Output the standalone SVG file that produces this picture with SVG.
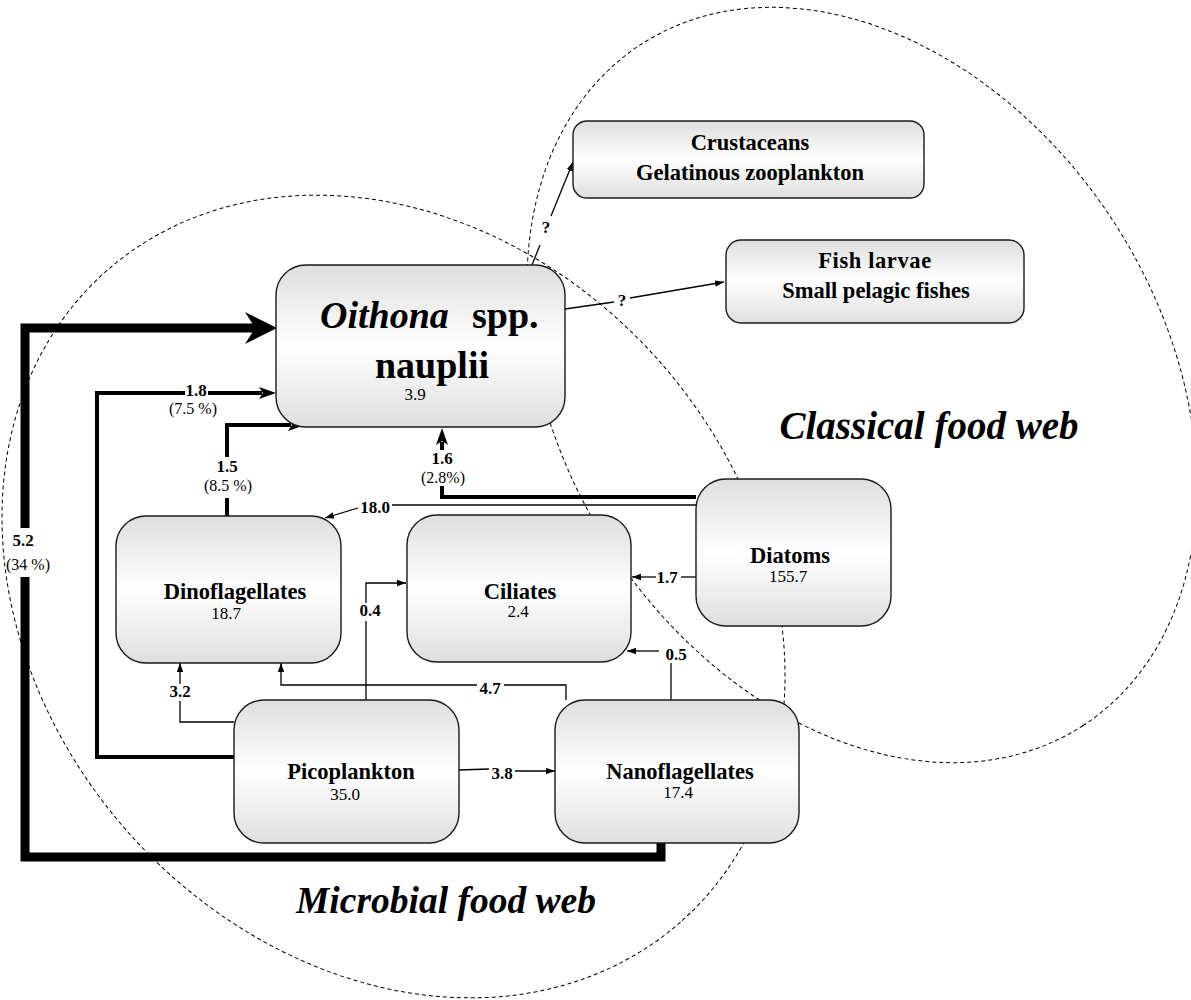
<svg xmlns="http://www.w3.org/2000/svg" width="1191" height="1000" viewBox="0 0 1191 1000">
<style>
 .box{fill:url(#gr);stroke:#1a1a1a;stroke-width:1.4}
 .ell{fill:none;stroke:#000;stroke-width:1;stroke-dasharray:4 3}
 .thin{fill:none;stroke:#000;stroke-width:1.3}
 .med{fill:none;stroke:#000;stroke-width:4}
 .thick{fill:none;stroke:#000;stroke-width:9}
 text{font-family:"Liberation Serif","Times New Roman",serif;fill:#000}
 .nm{font-size:22.5px;font-weight:bold;text-anchor:middle}
 .val{font-size:17px;text-anchor:middle}
 .el{font-size:17px;font-weight:bold;text-anchor:middle}
 .pc{font-size:16px;text-anchor:middle}
 .big{font-size:38px;font-weight:bold}
 .title{font-weight:bold;font-style:italic;text-anchor:middle}
</style>
<defs>
 <linearGradient id="gr" x1="0" y1="0" x2="0" y2="1">
  <stop offset="0" stop-color="#dedede"/>
  <stop offset="0.5" stop-color="#ffffff"/>
  <stop offset="1" stop-color="#dedede"/>
 </linearGradient>
 <marker id="aT" markerUnits="userSpaceOnUse" markerWidth="10" markerHeight="8" refX="9" refY="4" orient="auto"><path d="M0,0.8 L9,4 L0,7.2 z"/></marker>
 <marker id="aM" markerUnits="userSpaceOnUse" markerWidth="18" markerHeight="14" refX="3" refY="7" orient="auto"><path d="M0,1 L17,7 L0,13 L4,7 z"/></marker>
</defs>

<g id="regions">
 <ellipse class="ell" cx="0" cy="0" rx="434" ry="355" transform="translate(393.5,596.5) rotate(48.6)"/>
 <ellipse class="ell" cx="0" cy="0" rx="406" ry="300" transform="translate(862,385) rotate(57)"/>
 <text class="title" x="929" y="439" font-size="39">Classical food web</text>
 <text class="title" x="446" y="913" font-size="37.5">Microbial food web</text>
</g>

<g id="connectors">
 <!-- 5.2 thick: Nanoflagellates -> Oithona -->
 <path class="thick" d="M661,843 V857 H25 V577"/>
 <path class="thick" d="M25,528 V328 H255"/>
 <polygon points="277,328 245,312 255,328 245,344" fill="#000"/>
 <text class="el" x="23" y="546">5.2</text>
 <text class="pc" x="28" y="570">(34 %)</text>

 <!-- 1.8 Picoplankton -> Oithona -->
 <path class="med" d="M234,757 H97 V393 H185"/>
 <path class="med" d="M208,393 H262" marker-end="url(#aM)"/>
 <text class="el" x="196" y="396">1.8</text>
 <text class="pc" x="193" y="414">(7.5 %)</text>

 <!-- 1.5 Dinoflagellates -> Oithona -->
 <path class="med" d="M227,516 V498"/>
 <path class="med" d="M227,457 V425 H291" marker-end="url(#aM)"/>
 <text class="el" x="227" y="472">1.5</text>
 <text class="pc" x="228" y="491">(8.5 %)</text>

 <!-- 1.6 Diatoms -> Oithona -->
 <path class="med" d="M696,497 H442 V486"/>
 <path class="med" d="M442,450 V442" marker-end="url(#aM)"/>
 <text class="el" x="442" y="464">1.6</text>
 <text class="pc" x="443" y="483">(2.8%)</text>

 <!-- 18.0 Diatoms -> Dinoflagellates -->
 <path class="thin" d="M696,505 H392"/>
 <path class="thin" d="M358,508 L325,518" marker-end="url(#aT)"/>
 <text class="el" x="375" y="513">18.0</text>

 <!-- 1.7 Diatoms -> Ciliates -->
 <path class="thin" d="M696,577 H681"/>
 <path class="thin" d="M656,577 H632" marker-end="url(#aT)"/>
 <text class="el" x="667" y="583">1.7</text>

 <!-- 0.5 Nanoflagellates -> Ciliates -->
 <path class="thin" d="M671,700 V663"/>
 <path class="thin" d="M659,651 H627" marker-end="url(#aT)"/>
 <text class="el" x="676" y="660">0.5</text>

 <!-- 0.4 Picoplankton -> Ciliates -->
 <path class="thin" d="M366,700 V621"/>
 <path class="thin" d="M366,603 V583 H406" marker-end="url(#aT)"/>
 <text class="el" x="370" y="616">0.4</text>

 <!-- 3.2 Picoplankton -> Dinoflagellates -->
 <path class="thin" d="M234,722 H180 V701"/>
 <path class="thin" d="M180,684 V663" marker-end="url(#aT)"/>
 <text class="el" x="180" y="697">3.2</text>

 <!-- 4.7 Nanoflagellates -> Dinoflagellates -->
 <path class="thin" d="M566,700 V685 H504"/>
 <path class="thin" d="M477,685 H281 V663" marker-end="url(#aT)"/>
 <text class="el" x="490" y="694">4.7</text>

 <!-- 3.8 Picoplankton -> Nanoflagellates -->
 <path class="thin" d="M459,770 L489,769"/>
 <path class="thin" d="M515,771 H555" marker-end="url(#aT)"/>
 <text class="el" x="502" y="779">3.8</text>

 <!-- ? Oithona -> Crustaceans -->
 <path class="thin" d="M532,265 L540,245"/>
 <path class="thin" d="M551,216 L573,162" marker-end="url(#aT)"/>
 <text class="el" x="546" y="233">?</text>

 <!-- ? Oithona -> Fish -->
 <path class="thin" d="M565,309 L614,302"/>
 <path class="thin" d="M630,298 L724,282" marker-end="url(#aT)"/>
 <text class="el" x="622" y="306">?</text>
</g>

<g id="node-oithona">
 <rect class="box" x="276" y="265" width="289" height="162" rx="30"/>
 <text class="big" x="320" y="328" font-style="italic">Oithona</text>
 <text class="big" x="472" y="328">spp.</text>
 <text class="big" x="432" y="378" text-anchor="middle">nauplii</text>
 <text class="val" x="415" y="400">3.9</text>
</g>

<g id="node-crustaceans">
 <rect class="box" x="573" y="121" width="351" height="77" rx="14"/>
 <text class="nm" x="750" y="150">Crustaceans</text>
 <text class="nm" x="750" y="180">Gelatinous zooplankton</text>
</g>

<g id="node-fish">
 <rect class="box" x="726" y="240" width="298" height="83" rx="15"/>
 <text class="nm" x="875" y="268" letter-spacing="0.6">Fish larvae</text>
 <text class="nm" x="876" y="298">Small pelagic fishes</text>
</g>

<g id="node-dinoflagellates">
 <rect class="box" x="116" y="516" width="225" height="147" rx="30"/>
 <text class="nm" x="235" y="599">Dinoflagellates</text>
 <text class="val" x="226" y="619">18.7</text>
</g>

<g id="node-ciliates">
 <rect class="box" x="407" y="515" width="224" height="147" rx="30"/>
 <text class="nm" x="520" y="599">Ciliates</text>
 <text class="val" x="518" y="617">2.4</text>
</g>

<g id="node-diatoms">
 <rect class="box" x="696" y="479" width="195" height="147" rx="30"/>
 <text class="nm" x="790" y="563">Diatoms</text>
 <text class="val" x="788" y="582">155.7</text>
</g>

<g id="node-picoplankton">
 <rect class="box" x="234" y="700" width="225" height="143" rx="30"/>
 <text class="nm" x="351" y="779">Picoplankton</text>
 <text class="val" x="345" y="800">35.0</text>
</g>

<g id="node-nanoflagellates">
 <rect class="box" x="555" y="700" width="244" height="143" rx="30"/>
 <text class="nm" x="680" y="779">Nanoflagellates</text>
 <text class="val" x="678" y="798">17.4</text>
</g>
</svg>
